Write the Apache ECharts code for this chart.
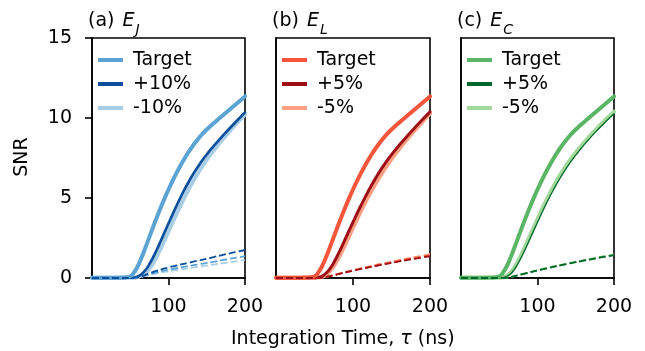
<!DOCTYPE html>
<html>
<head>
<meta charset="utf-8">
<script src="https://cdn.jsdelivr.net/npm/echarts@6/dist/echarts.min.js"></script>
<style>
html, body { margin: 0; padding: 0; background: #fff; }
#main { width: 645px; height: 351px; }
</style>
</head>
<body>
<div id="main"></div>
<script>
// integration time (ns)
var times = [0, 10, 20, 30, 40, 50, 55, 60, 65, 70, 75, 80, 85, 90, 95, 100, 105, 110, 115, 120, 125, 130, 135, 140, 145, 150, 155, 160, 170, 180, 190, 200];

// target curve (same in every panel)
var targetSNR = [0.02, 0.02, 0.02, 0.02, 0.03, 0.1, 0.35, 0.75, 1.3, 1.92, 2.56, 3.2, 3.82, 4.42, 4.99, 5.53, 6.04, 6.52, 6.97, 7.39, 7.78, 8.14, 8.47, 8.77, 9.04, 9.28, 9.5, 9.71, 10.12, 10.53, 10.94, 11.35];
var targetDashA = [0, 0, 0, 0, 0, 0, 0.01, 0.04, 0.09, 0.16, 0.23, 0.3, 0.36, 0.42, 0.47, 0.52, 0.57, 0.61, 0.65, 0.7, 0.74, 0.78, 0.82, 0.86, 0.9, 0.94, 0.98, 1.02, 1.11, 1.2, 1.28, 1.37];

// (a) E_J
var ejPlus = [0.01, 0.01, 0.01, 0.01, 0.01, 0.02, 0.03, 0.1, 0.25, 0.5, 0.86, 1.3, 1.8, 2.33, 2.87, 3.41, 3.94, 4.46, 4.96, 5.44, 5.89, 6.31, 6.7, 7.06, 7.41, 7.72, 8.02, 8.3, 8.84, 9.36, 9.86, 10.35];
var ejMinus = [0.01, 0.01, 0.01, 0.01, 0.01, 0.01, 0.02, 0.06, 0.15, 0.32, 0.58, 0.93, 1.37, 1.86, 2.38, 2.91, 3.44, 3.96, 4.46, 4.95, 5.42, 5.86, 6.28, 6.67, 7.04, 7.39, 7.72, 8.03, 8.62, 9.18, 9.72, 10.22];
var ejPlusDash = [0, 0, 0, 0, 0, 0, 0.01, 0.05, 0.12, 0.2, 0.29, 0.38, 0.46, 0.53, 0.6, 0.66, 0.72, 0.78, 0.83, 0.89, 0.94, 0.99, 1.05, 1.1, 1.15, 1.21, 1.26, 1.32, 1.43, 1.54, 1.65, 1.75];
var ejMinusDash = [0, 0, 0, 0, 0, 0, 0.01, 0.03, 0.08, 0.13, 0.19, 0.24, 0.29, 0.34, 0.38, 0.42, 0.46, 0.5, 0.54, 0.57, 0.61, 0.64, 0.68, 0.71, 0.75, 0.78, 0.81, 0.85, 0.92, 0.98, 1.05, 1.12];

// (b) E_L
var elPlus = [0.01, 0.01, 0.01, 0.01, 0.01, 0.02, 0.04, 0.12, 0.3, 0.58, 0.96, 1.42, 1.92, 2.44, 2.97, 3.49, 4.0, 4.5, 4.98, 5.44, 5.88, 6.29, 6.68, 7.04, 7.38, 7.7, 8.01, 8.3, 8.85, 9.38, 9.89, 10.38];
var elMinus = [0.01, 0.01, 0.01, 0.01, 0.01, 0.01, 0.03, 0.08, 0.2, 0.42, 0.74, 1.14, 1.6, 2.1, 2.62, 3.14, 3.65, 4.15, 4.63, 5.09, 5.53, 5.95, 6.35, 6.73, 7.09, 7.43, 7.76, 8.07, 8.66, 9.22, 9.76, 10.28];
var elTargetDash = [0, 0, 0, 0, 0, 0, 0, 0.03, 0.07, 0.12, 0.18, 0.24, 0.3, 0.36, 0.42, 0.47, 0.53, 0.58, 0.63, 0.68, 0.73, 0.78, 0.83, 0.88, 0.93, 0.98, 1.02, 1.07, 1.16, 1.25, 1.34, 1.42];
var elPlusDash = [0, 0, 0, 0, 0, 0, 0, 0.03, 0.07, 0.11, 0.17, 0.23, 0.29, 0.35, 0.4, 0.46, 0.51, 0.56, 0.61, 0.66, 0.71, 0.76, 0.81, 0.85, 0.9, 0.95, 0.99, 1.04, 1.12, 1.2, 1.28, 1.36];
var elMinusDash = [0, 0, 0, 0, 0, 0, 0, 0.03, 0.07, 0.13, 0.19, 0.25, 0.32, 0.38, 0.44, 0.5, 0.56, 0.61, 0.67, 0.72, 0.77, 0.83, 0.88, 0.93, 0.98, 1.03, 1.08, 1.13, 1.22, 1.31, 1.4, 1.49];

// (c) E_C
var ecPlus = [0.01, 0.01, 0.01, 0.01, 0.01, 0.01, 0.03, 0.1, 0.27, 0.56, 0.95, 1.41, 1.91, 2.43, 2.96, 3.48, 4.0, 4.5, 4.98, 5.44, 5.87, 6.28, 6.66, 7.02, 7.36, 7.68, 7.98, 8.27, 8.82, 9.33, 9.81, 10.27];
var ecMinus = [0.01, 0.01, 0.01, 0.01, 0.01, 0.02, 0.05, 0.14, 0.35, 0.68, 1.1, 1.58, 2.1, 2.63, 3.16, 3.69, 4.21, 4.71, 5.19, 5.65, 6.08, 6.48, 6.86, 7.21, 7.54, 7.85, 8.14, 8.42, 8.96, 9.46, 9.94, 10.4];
var ecTargetDash = [0, 0, 0, 0, 0, 0, 0, 0.02, 0.06, 0.12, 0.18, 0.24, 0.3, 0.36, 0.42, 0.48, 0.54, 0.59, 0.65, 0.7, 0.75, 0.8, 0.85, 0.9, 0.95, 1.0, 1.05, 1.09, 1.18, 1.27, 1.36, 1.45];
var ecPlusDash = [0, 0, 0, 0, 0, 0, 0, 0.02, 0.06, 0.11, 0.17, 0.23, 0.29, 0.35, 0.41, 0.47, 0.53, 0.58, 0.64, 0.69, 0.74, 0.79, 0.84, 0.89, 0.94, 0.99, 1.03, 1.08, 1.17, 1.26, 1.34, 1.43];
var ecMinusDash = [0, 0, 0, 0, 0, 0, 0, 0.02, 0.06, 0.12, 0.19, 0.25, 0.31, 0.37, 0.43, 0.49, 0.55, 0.61, 0.66, 0.72, 0.77, 0.82, 0.87, 0.92, 0.97, 1.02, 1.07, 1.12, 1.21, 1.3, 1.39, 1.48];

var legendA = ['Target', '+10%', '-10%'];
var legendB = ['Target', '+5%', '-5%'];
var legendC = ['Target', '+5%', '-5%'];
var yTicks = [0, 5, 10, 15];
var xTicks = [100, 200];

var FONT = 'DejaVu Sans';

var panels = [
  { key: 'a', sub: 'J', labels: legendA, solid: [targetSNR, ejPlus, ejMinus], dashed: [targetDashA, ejPlusDash, ejMinusDash],
    colors: ['#5ba3d3', '#0d4f9b', '#a8cee6'], widths: [4, 2.7, 4], left: 92, width: 153 },
  { key: 'b', sub: 'L', labels: legendB, solid: [targetSNR, elPlus, elMinus], dashed: [elTargetDash, elPlusDash, elMinusDash],
    colors: ['#f4553b', '#9e0e16', '#fca083'], widths: [4, 3, 4], left: 276, width: 154 },
  { key: 'c', sub: 'C', labels: legendC, solid: [targetSNR, ecPlus, ecMinus], dashed: [ecTargetDash, ecPlusDash, ecMinusDash],
    colors: ['#5ab566', '#00672b', '#a4d99d'], widths: [4, 1.3, 4], left: 461, width: 153 }
];

function pairs(ys) {
  return times.map(function (t, i) { return [t, ys[i]]; });
}

var grids = [], xAxes = [], yAxes = [], series = [], legends = [], titles = [];

panels.forEach(function (p, gi) {
  grids.push({ left: p.left, top: 38, width: p.width, height: 240, show: true, borderColor: '#000', borderWidth: 1.6, backgroundColor: 'transparent' });
  xAxes.push({
    type: 'value', gridIndex: gi, min: 0, max: 200,
    axisLine: { show: true, lineStyle: { color: '#000', width: 1.6 } },
    axisTick: { show: true, length: 7, lineStyle: { color: '#000', width: 1.6 }, customValues: xTicks },
    axisLabel: { show: true, color: '#000', fontSize: 19, fontFamily: FONT, margin: 20, customValues: xTicks },
    splitLine: { show: false }
  });
  yAxes.push({
    type: 'value', gridIndex: gi, min: 0, max: 15, interval: 5,
    axisLine: { show: true, lineStyle: { color: '#000', width: 1.6 } },
    axisTick: { show: gi === 0, length: 7, lineStyle: { color: '#000', width: 1.6 }, customValues: yTicks },
    axisLabel: { show: gi === 0, color: '#000', fontSize: 19, fontFamily: FONT, margin: 20, customValues: yTicks },
    splitLine: { show: false }
  });

  // solid: draw minus, plus, then target
  [2, 1, 0].forEach(function (k) {
    series.push({
      name: p.key + ':' + p.labels[k], type: 'line', xAxisIndex: gi, yAxisIndex: gi,
      data: pairs(p.solid[k]), showSymbol: false, symbol: 'none', smooth: 0.5, clip: false,
      color: p.colors[k], lineStyle: { color: p.colors[k], width: p.widths[k], cap: 'round', join: 'round' }, z: 3
    });
  });
  [2, 0, 1].forEach(function (k) {
    series.push({
      name: p.key + ':' + p.labels[k] + ':d', type: 'line', xAxisIndex: gi, yAxisIndex: gi,
      data: pairs(p.dashed[k]), showSymbol: false, symbol: 'none', smooth: 0.5, clip: false,
      color: p.colors[k], lineStyle: { color: p.colors[k], width: 1.8, type: [7, 3] }, z: 4
    });
  });

  legends.push({
    data: p.labels.map(function (l) { return p.key + ':' + l; }),
    orient: 'vertical', left: p.left + 1, top: 43, icon: 'rect', itemWidth: 25, itemHeight: 4, itemGap: 0,
    selectedMode: false,
    itemStyle: { borderWidth: 0 },
    formatter: function (n) { return n.slice(2); },
    textStyle: { color: '#000', fontSize: 19, fontFamily: FONT, lineHeight: 24, padding: [0, 0, 0, 5] }
  });

  titles.push({
    text: '(' + p.key + ') {i|E}{s|' + p.sub + '}',
    left: p.left - 4, top: 12, padding: 0,
    textStyle: {
      color: '#000', fontSize: 19, fontWeight: 'normal', fontFamily: FONT,
      rich: {
        i: { fontSize: 19, fontStyle: 'italic', fontFamily: FONT, color: '#000', padding: [0, 0, 0, 2] },
        s: { fontSize: 14, fontStyle: 'italic', fontFamily: FONT, color: '#000', verticalAlign: 'bottom', padding: [0, 0, -6, 1] }
      }
    }
  });
});

titles.push({
  text: 'Integration Time, {i|τ} (ns)', left: 231, top: 330, padding: 0,
  textStyle: {
    color: '#000', fontSize: 19, fontWeight: 'normal', fontFamily: FONT,
    rich: { i: { fontSize: 19, fontStyle: 'italic', fontFamily: FONT, color: '#000' } }
  }
});

var myChart = echarts.init(document.getElementById('main'), null, { renderer: 'canvas' });
myChart.setOption({
  animation: false,
  backgroundColor: '#fff',
  title: titles,
  legend: legends,
  grid: grids,
  xAxis: xAxes,
  yAxis: yAxes,
  series: series,
  graphic: [{
    type: 'text', x: 22, y: 157, rotation: Math.PI / 2,
    style: { text: 'SNR', fill: '#000', fontSize: 19, fontFamily: FONT, align: 'center', verticalAlign: 'middle' }
  }]
});
</script>
</body>
</html>
